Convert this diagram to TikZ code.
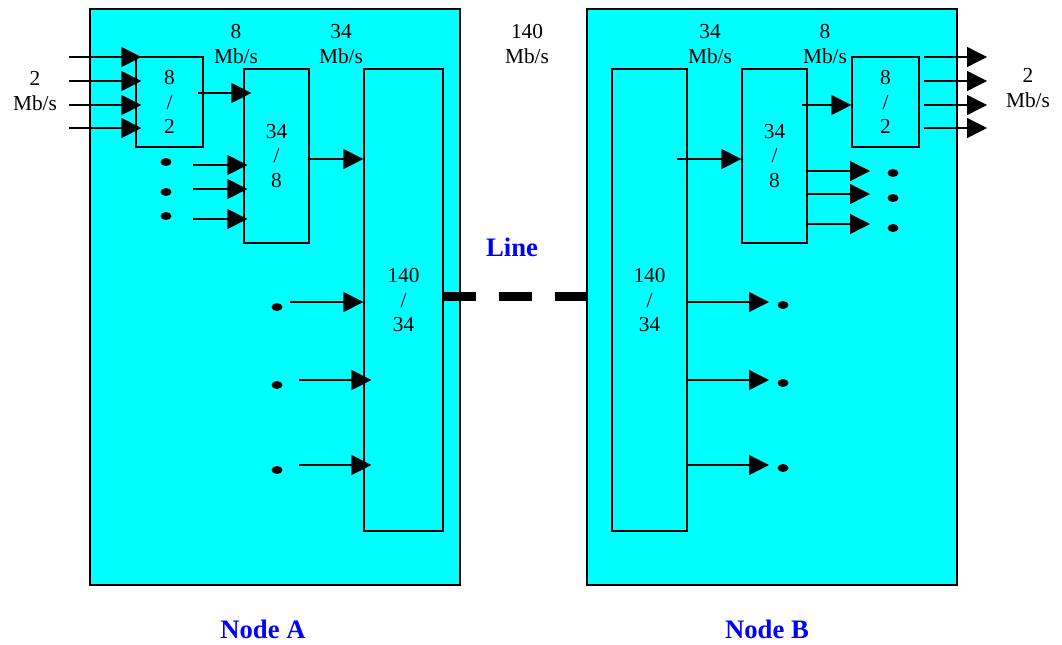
\documentclass[tikz,border=0pt]{standalone}
\usepackage{fontspec}
\setmainfont{Liberation Serif}
\usepackage{tikz}
\usetikzlibrary{arrows.meta,positioning,shapes.geometric}
\definecolor{aqua}{RGB}{0,255,255}
\definecolor{tagblue}{RGB}{0,0,255}
\newcommand{\ratefont}{\fontsize{16}{18.5}\selectfont}
\newcommand{\namefont}{\fontsize{20}{22}\selectfont\bfseries}

\begin{document}
\begin{tikzpicture}[
  x=0.75pt, y=-0.75pt,
  >={Triangle[length=15pt,width=15pt]},
  line width=1pt,
  site/.style={rectangle, draw=black, fill=aqua, line width=1.4pt, minimum width=277.5pt, minimum height=432pt},
  mux/.style={rectangle, draw=black, fill=aqua, align=center, inner sep=0pt, font=\ratefont},
  rate/.style={align=center, font=\ratefont},
  tag/.style={font=\namefont, text=tagblue},
  blob/.style={ellipse, fill=black, inner sep=0pt, minimum width=8.25pt, minimum height=6pt},
  trunk/.style={line width=6.75pt, dash pattern=on 24.75pt off 17.25pt},
]
\useasboundingbox (0,0) rectangle (1062,644);

\node[site] (siteA) at (275,297) {};
\node[site] (siteB) at (772,297) {};

\node[mux, minimum width=50.25pt, minimum height=67.5pt] (mux82A) at (169.5,102) {8\\/\\2};
\node[mux, minimum width=48.75pt, minimum height=130.5pt] (mux348A) at (276.5,156) {34\\/\\8};
\node[mux, minimum width=59.25pt, minimum height=346.5pt] (mux14034A) at (403.5,300) {140\\/\\34};
\node[mux, minimum width=56.25pt, minimum height=346.5pt] (mux14034B) at (649.5,300) {140\\/\\34};
\node[mux, minimum width=48.75pt, minimum height=130.5pt] (mux348B) at (774.5,156) {34\\/\\8};
\node[mux, minimum width=50.25pt, minimum height=67.5pt] (mux82B) at (885.5,102) {8\\/\\2};

\node[rate] (in2) at (35,91) {2\\Mb/s};
\node[rate] (rate8A) at (236,44) {8\\Mb/s};
\node[rate] (rate34A) at (341,44) {34\\Mb/s};
\node[rate] (rate140) at (527,44) {140\\Mb/s};
\node[rate] (rate34B) at (710,44) {34\\Mb/s};
\node[rate] (rate8B) at (825,44) {8\\Mb/s};
\node[rate] (out2) at (1028,88) {2\\Mb/s};

\node[tag] (line) at (512,247) {Line};
\node[tag] (nodeA) at (263,629) {Node A};
\node[tag] (nodeB) at (767,629) {Node B};

\node[blob] (blobA1) at (166,162) {};
\node[blob] (blobA2) at (166,192) {};
\node[blob] (blobA3) at (166,216) {};
\node[blob] (blobA4) at (277,307) {};
\node[blob] (blobA5) at (277,385) {};
\node[blob] (blobA6) at (277,470) {};
\node[blob] (blobB1) at (893,173) {};
\node[blob] (blobB2) at (893,198) {};
\node[blob] (blobB3) at (893,228) {};
\node[blob] (blobB4) at (783,305) {};
\node[blob] (blobB5) at (783,383) {};
\node[blob] (blobB6) at (783,468) {};

\coordinate (inA1) at (69,57);
\coordinate (inA2) at (69,81);
\coordinate (inA3) at (69,105);
\coordinate (inA4) at (69,128);
\coordinate (upA1) at (198,93);
\coordinate (subA1) at (193,165);
\coordinate (subA2) at (193,189);
\coordinate (subA3) at (193,219);
\coordinate (upA2) at (309,159);
\coordinate (subA4) at (290,302);
\coordinate (subA5) at (299,380);
\coordinate (subA6) at (299,465);
\coordinate (trunkA) at (443,296);
\coordinate (downB1) at (677,159);
\coordinate (downB2) at (802,105);
\coordinate (outB1) at (987,57);
\coordinate (outB2) at (987,81);
\coordinate (outB3) at (987,105);
\coordinate (outB4) at (987,128);
\coordinate (subB1) at (870,171);
\coordinate (subB2) at (870,194);
\coordinate (subB3) at (870,224);
\coordinate (subB4) at (769,302);
\coordinate (subB5) at (769,380);
\coordinate (subB6) at (769,465);

\draw[->, shorten >=-4.5pt] (inA1) -- (inA1 -| mux82A.west);
\draw[->, shorten >=-4.5pt] (inA2) -- (inA2 -| mux82A.west);
\draw[->, shorten >=-4.5pt] (inA3) -- (inA3 -| mux82A.west);
\draw[->, shorten >=-4.5pt] (inA4) -- (inA4 -| mux82A.west);
\draw[->, shorten >=-6pt] (upA1) -- (upA1 -| mux348A.west);
\draw[->, shorten >=-3pt] (subA1) -- (subA1 -| mux348A.west);
\draw[->, shorten >=-3pt] (subA2) -- (subA2 -| mux348A.west);
\draw[->, shorten >=-3pt] (subA3) -- (subA3 -| mux348A.west);
\draw[->] (upA2) -- (upA2 -| mux14034A.west);
\draw[->] (subA4) -- (subA4 -| mux14034A.west);
\draw[->, shorten >=-6pt] (subA5) -- (subA5 -| mux14034A.west);
\draw[->, shorten >=-6pt] (subA6) -- (subA6 -| mux14034A.west);

\draw[trunk] (trunkA) -- (trunkA -| siteB.west);

\draw[->] (downB1) -- (downB1 -| mux348B.west);
\draw[->] (downB2) -- (downB2 -| mux82B.west);
\draw[->, shorten <=3pt] (outB1 -| mux82B.east) -- (outB1);
\draw[->, shorten <=3pt] (outB2 -| mux82B.east) -- (outB2);
\draw[->, shorten <=3pt] (outB3 -| mux82B.east) -- (outB3);
\draw[->, shorten <=3pt] (outB4 -| mux82B.east) -- (outB4);
\draw[->] (subB1 -| mux348B.east) -- (subB1);
\draw[->] (subB2 -| mux348B.east) -- (subB2);
\draw[->] (subB3 -| mux348B.east) -- (subB3);
\draw[->] (subB4 -| mux14034B.east) -- (subB4);
\draw[->] (subB5 -| mux14034B.east) -- (subB5);
\draw[->] (subB6 -| mux14034B.east) -- (subB6);
\end{tikzpicture}
\end{document}
